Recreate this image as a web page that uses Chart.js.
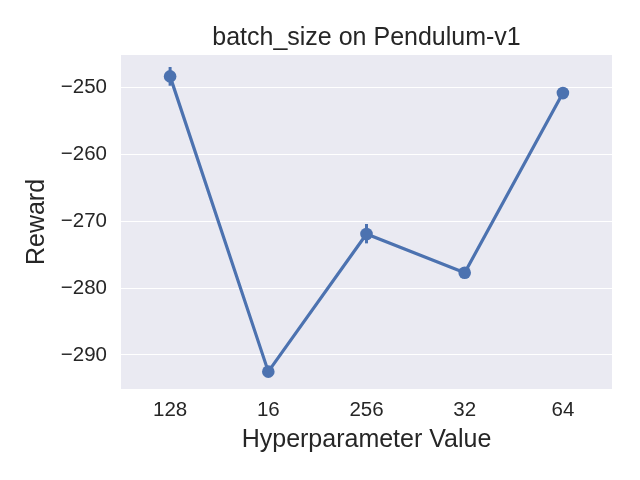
<!DOCTYPE html>
<html>
<head>
<meta charset="utf-8">
<script src="https://cdn.jsdelivr.net/npm/chart.js@4"></script>
<style>
  html, body { margin: 0; padding: 0; background: #ffffff; }
  #wrap { width: 640px; height: 480px; }
</style>
</head>
<body>
<div id="wrap"><canvas id="chart" width="640" height="480"></canvas></div>
<script>
// batch_size sweep on Pendulum-v1 (seaborn-style pointplot)
const categories = ['128', '16', '256', '32', '64'];
const rewardMean = [-248.3, -292.5, -271.9, -277.7, -250.8];
const rewardLow  = [-249.7, -293.0, -273.3, -278.1, -251.2];
const rewardHigh = [-246.9, -292.0, -270.4, -277.3, -250.4];
const yTicks = [-290, -280, -270, -260, -250];

const BLUE = '#4C72B0';
const TEXT = '#262626';
const FONT = "'Liberation Sans', Arial, sans-serif";

// gray panel behind the plot, like seaborn darkgrid
const panelBg = {
  id: 'panelBg',
  beforeDraw(chart) {
    const { ctx, chartArea: a } = chart;
    ctx.save();
    ctx.fillStyle = '#EAEAF2';
    ctx.fillRect(a.left, a.top, a.right - a.left, a.bottom - a.top);
    ctx.restore();
  }
};

// vertical CI bars drawn through the scales
const errorBars = {
  id: 'errorBars',
  beforeDatasetsDraw(chart) {
    const { ctx, scales } = chart;
    ctx.save();
    ctx.strokeStyle = BLUE;
    ctx.lineWidth = 3;
    categories.forEach((c, i) => {
      const x = scales.x.getPixelForValue(i);
      ctx.beginPath();
      ctx.moveTo(x, scales.y.getPixelForValue(rewardLow[i]));
      ctx.lineTo(x, scales.y.getPixelForValue(rewardHigh[i]));
      ctx.stroke();
    });
    ctx.restore();
  }
};

new Chart(document.getElementById('chart').getContext('2d'), {
  type: 'line',
  data: {
    labels: categories,
    datasets: [{
      label: 'Reward',
      data: rewardMean,
      borderColor: BLUE,
      backgroundColor: BLUE,
      borderWidth: 3.2,
      pointRadius: 6.3,
      pointHoverRadius: 6.3,
      pointBorderWidth: 0,
      tension: 0
    }]
  },
  options: {
    responsive: false,
    animation: false,
    layout: { padding: { left: 22, right: 28, top: 0, bottom: 25 } },
    plugins: {
      legend: { display: false },
      tooltip: { enabled: false },
      title: {
        display: true,
        fullSize: false,
        text: 'batch_size on Pendulum-v1',
        color: TEXT,
        font: { family: FONT, size: 25, weight: 'normal' },
        padding: { top: 23, bottom: 2 }
      }
    },
    scales: {
      x: {
        offset: true,
        grid: { display: false, drawTicks: false },
        border: { display: false },
        ticks: { color: TEXT, font: { family: FONT, size: 20.5 }, padding: 9 },
        title: {
          display: true,
          text: 'Hyperparameter Value',
          color: TEXT,
          font: { family: FONT, size: 25 },
          padding: { top: 0, bottom: 0 }
        },
        afterFit(s) { s.height = 66; }
      },
      y: {
        min: -295.1,
        max: -245.1,
        afterBuildTicks(s) { s.ticks = yTicks.map(v => ({ value: v })); },
        grid: { color: '#ffffff', lineWidth: 1, drawTicks: false },
        border: { display: false },
        ticks: {
          color: TEXT,
          font: { family: FONT, size: 20.5 },
          padding: 14,
          callback: v => String(v).replace('-', '\u2212')
        },
        title: {
          display: true,
          text: 'Reward',
          color: TEXT,
          font: { family: FONT, size: 25 },
          padding: { top: 0, bottom: 0 }
        },
        afterFit(s) { s.width = 99; }
      }
    }
  },
  plugins: [panelBg, errorBars]
});
</script>
</body>
</html>
